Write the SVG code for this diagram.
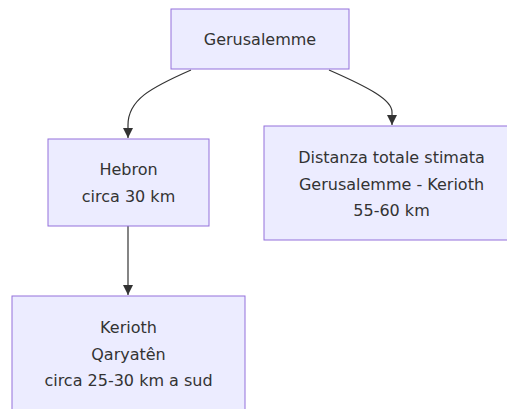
<svg xmlns="http://www.w3.org/2000/svg" width="507" height="409" viewBox="0 0 507 409">
<style>
.node rect{fill:#ECECFF;stroke:#9370DB;stroke-width:1}
.node text{font-family:"DejaVu Sans",sans-serif;font-size:16px;fill:#333;text-anchor:middle}
.edge{fill:none;stroke:#333;stroke-width:1.2}
</style>
<defs>
<marker id="arrow" viewBox="0 0 10 10" refX="10" refY="5" markerWidth="10" markerHeight="10" markerUnits="userSpaceOnUse" orient="auto">
<path d="M0,0 L10,5 L0,10 z" fill="#333"/>
</marker>
</defs>
<rect width="507" height="409" fill="#fff"/>
<g id="connectors">
<path class="edge" d="M191,70 C150,88 128,100 128,125 L128,138" marker-end="url(#arrow)"/>
<path class="edge" d="M329,70 C370,88 392,100 392,112 L392,125" marker-end="url(#arrow)"/>
<path class="edge" d="M128,226 L128,295" marker-end="url(#arrow)"/>
</g>
<g id="gerusalemme" class="node">
<rect x="171" y="9" width="178" height="60"/>
<text x="260" y="45">Gerusalemme</text>
</g>
<g id="hebron" class="node">
<rect x="48" y="139" width="161" height="87"/>
<text x="128.5" y="175">Hebron</text>
<text x="128.5" y="201.5">circa 30 km</text>
</g>
<g id="distanza" class="node">
<rect x="264" y="126" width="255" height="114"/>
<text x="391.5" y="163">Distanza totale stimata</text>
<text x="391.5" y="189.5">Gerusalemme - Kerioth</text>
<text x="391.5" y="216">55-60 km</text>
</g>
<g id="kerioth" class="node">
<rect x="12" y="296" width="233" height="114"/>
<text x="128.5" y="333">Kerioth</text>
<text x="128.5" y="359.5">Qaryatên</text>
<text x="128.5" y="386">circa 25-30 km a sud</text>
</g>
</svg>
